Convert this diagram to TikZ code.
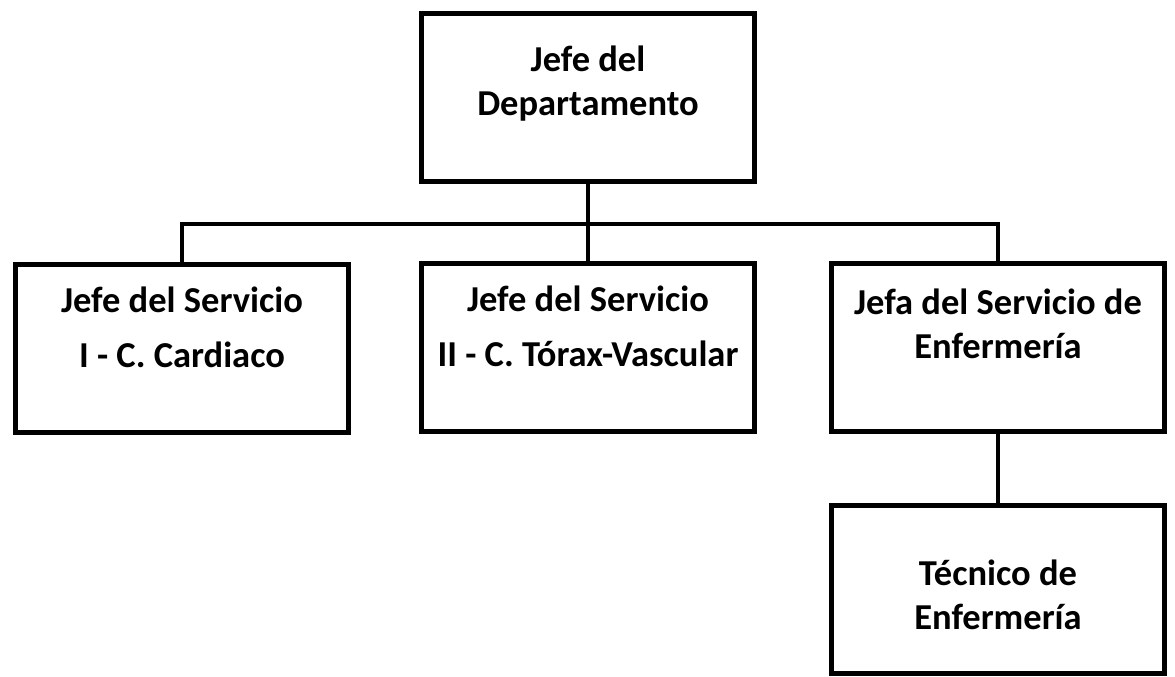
\documentclass[tikz,border=0pt]{standalone}
\usepackage{fontspec}
\setmainfont{Carlito}

\begin{document}
\begin{tikzpicture}[x=1pt, y=-1pt, line width=4.5pt,
    caja/.style={draw, line width=5pt, minimum width=333pt, minimum height=168pt,
                 inner sep=0pt},
    etiqueta/.style={align=center, inner sep=0pt,
                 font=\fontsize{36.5}{44}\selectfont\bfseries}]

    \useasboundingbox (0,0) rectangle (1175,677);

    % -- Livello superiore --
    \node[caja, label={[etiqueta, yshift=14pt]center:Jefe del\\Departamento}]
        (dep) at (588, 97.5) {};

    % -- Servizi --
    \node[caja, label={[etiqueta, yshift=20.5pt]center:Jefe del Servicio\\[11pt]I - C. Cardiaco}]
        (cardio) at (182, 348) {};
    \node[caja, label={[etiqueta, yshift=20.5pt]center:Jefe del Servicio\\[11pt]II - C. Tórax-Vascular}]
        (torax) at (588, 347) {};
    \node[caja, label={[etiqueta, yshift=23.5pt]center:Jefa del Servicio de\\Enfermería}]
        (enf) at (998, 347) {};

    % -- Tecnico --
    \node[caja, label={[etiqueta, yshift=-5pt]center:Técnico de\\Enfermería}]
        (tec) at (998, 589.5) {};

    % Collegamenti
    \coordinate (bus) at (588, 224);
    \draw (dep) -- (bus);
    \draw (cardio) |- (bus) -| (enf);
    \draw (bus) -- (torax);
    \draw (enf) -- (tec);

\end{tikzpicture}
\end{document}
